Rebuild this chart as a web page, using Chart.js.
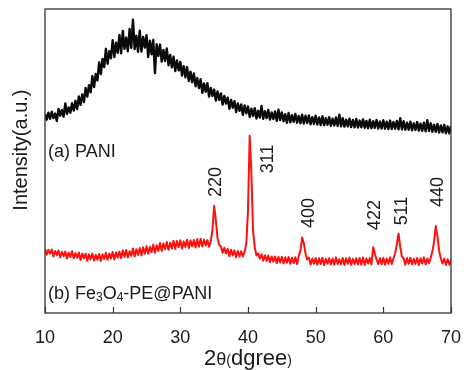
<!DOCTYPE html>
<html>
<head>
<meta charset="utf-8">
<script src="https://cdn.jsdelivr.net/npm/chart.js@4.4.1/dist/chart.umd.min.js"></script>
<style>
  html,body{margin:0;padding:0;background:#fff;}
  #wrap{width:467px;height:370px;position:relative;}
</style>
</head>
<body>
<div id="wrap"><canvas id="xrd" width="467" height="370"></canvas></div>
<script>
// 2-theta sampling grid (deg), 0.25 step from 10 to 70
const twoTheta = Array.from({length:241}, (_,i)=>10 + i*0.25);
const xTicks = [10,20,30,40,50,60,70];

// (a) PANI (arb. units)
const pani = [
  65.4,63.6,65.9,63.9, 66.2,64.1,65.6,63.2, 67.1,64.9,66.8,64.6, 68.9,65.5,67.6,65.9,
  69.0,66.6,69.8,67.1, 71.2,68.5,71.9,69.4, 74.0,71.2,74.9,72.6, 77.9,74.3,78.6,76.5,
  82.4,78.6,83.6,80.9, 86.9,82.0,86.1,83.8, 89.7,84.2,88.9,85.6, 91.5,85.4,92.8,86.9,
  90.6,86.1,93.4,87.2, 96.5,86.8,91.2,85.9, 92.9,86.0,90.8,87.3, 91.4,84.2,89.6,85.1,
  89.8,78.9,88.4,84.6, 88.3,82.7,86.5,82.9, 87.0,81.5,84.9,80.8, 84.3,79.6,83.1,79.8,
  82.6,78.1,81.2,77.5, 80.9,76.3,79.4,75.9, 78.8,74.6,77.3,74.0, 76.9,72.4,75.5,72.8,
  75.6,71.2,74.0,71.4, 73.5,69.9,72.9,70.1, 72.2,68.6,71.4,68.9, 70.8,67.2,70.1,67.5,
  69.7,66.1,68.9,66.5, 68.6,65.2,68.3,65.7, 67.9,64.5,67.2,64.8, 67.4,64.0,66.5,64.3,
  68.1,63.9,66.4,64.1, 66.8,63.6,66.0,63.8, 66.3,63.2,66.9,63.5, 66.0,63.1,65.4,62.6,
  65.8,62.7,65.1,62.9, 65.5,62.6,64.8,62.4, 65.2,62.3,64.9,62.5, 65.0,62.1,64.4,62.2,
  64.9,62.0,64.3,61.8, 64.7,61.8,64.1,61.9, 64.4,61.6,63.9,61.7, 64.3,61.5,65.2,61.4,
  64.1,61.3,63.6,61.4, 63.9,61.2,63.5,61.1, 63.8,61.0,63.3,61.1, 63.7,60.9,63.2,60.8,
  63.6,60.8,63.1,60.9, 63.5,60.7,63.0,60.7, 63.4,60.6,62.9,60.5, 63.3,60.5,62.8,60.6,
  63.2,60.4,64.1,60.4, 63.1,60.3,62.6,60.3, 62.9,60.1,62.4,60.2, 62.8,60.0,62.3,59.9,
  62.6,59.8,63.4,59.9, 62.4,59.6,61.9,59.6, 62.2,59.4,61.7,59.4, 61.9,59.1,61.4,59.1,
  61.5
];

// (b) Fe3O4-PE@PANI
const fe3o4 = [
  21.0,19.2,20.8,19.5, 20.9,18.6,20.4,19.0, 20.6,18.3,20.1,18.7, 20.2,17.9,19.9,18.4,
  20.3,18.0,19.7,18.2, 19.9,17.4,19.6,18.0, 19.5,17.2,19.3,17.6, 19.6,17.3,19.1,17.5,
  19.4,17.1,19.3,17.8, 19.8,17.5,19.6,17.9, 20.1,17.6,19.9,18.2, 20.2,18.0,20.6,18.4,
  20.7,18.3,20.3,18.8, 21.2,18.6,21.0,19.1, 21.4,18.9,21.6,19.5, 22.0,19.5,21.8,20.0,
  22.5,19.8,22.3,20.4, 23.0,20.4,22.9,21.0, 23.4,20.8,23.1,21.2, 23.8,21.1,23.7,21.6,
  23.9,21.2,23.5,21.7, 24.1,21.4,23.9,21.9, 24.0,21.5,24.3,21.8, 24.4,21.9,24.1,22.2,
  24.0,21.8,23.5,27.5, 35.3,30.5,24.6,22.4, 21.9,19.8,21.5,19.6, 21.1,18.7,20.8,18.9,
  20.6,18.3,20.4,18.5, 20.3,18.6,20.1,22.8, 33.5,58.3,46.0,27.0, 21.6,18.9,19.6,17.9,
  19.3,17.2,19.0,17.1, 18.9,16.7,18.6,16.9, 18.6,16.4,18.4,16.6, 18.5,16.3,18.3,16.5,
  18.4,16.2,18.2,16.4, 18.3,16.1,18.8,20.5, 24.8,23.0,19.6,17.6, 18.2,16.0,17.9,16.2,
  18.1,15.9,18.0,16.1, 18.2,15.8,17.8,16.2, 18.0,16.0,17.9,15.9, 18.3,16.1,17.7,16.0,
  18.1,15.8,18.0,16.2, 18.2,15.9,17.8,16.1, 18.0,16.0,18.1,15.9, 18.3,15.8,17.9,16.3,
  18.1,16.0,21.6,19.5, 17.6,16.1,18.0,16.0, 18.2,15.9,17.9,16.2, 18.3,16.1,18.0,19.6,
  22.6,26.1,21.8,18.6, 18.0,15.9,18.1,16.2, 18.2,16.0,17.8,16.1, 18.1,15.8,18.0,16.3,
  18.3,16.0,17.9,16.4, 18.2,20.2,23.4,28.6, 25.2,20.4,17.9,16.3, 17.9,15.8,17.7,15.9,
  17.5
];

// reflection labels
const peakLabels = ['220','311','400','422','511','440'];
const peakLabelX = [35.1,42.85,48.8,58.6,62.55,67.95];
const peakLabelY = [43.1,50.7,32.9,32.2,33.6,39.8];

const FONT = 'Arial, "Liberation Sans", sans-serif';

const frame = {
  id:'frame',
  afterDraw(chart){
    const {ctx, chartArea:a, scales:{x, y}} = chart;
    ctx.save();
    // box
    ctx.strokeStyle = '#333';
    ctx.lineWidth = 1.3;
    ctx.strokeRect(a.left, a.top, a.right - a.left, a.bottom - a.top);
    // inward ticks on bottom
    ctx.lineWidth = 1.2;
    xTicks.forEach(t=>{
      const px = Math.round(x.getPixelForValue(t)) + 0.5;
      ctx.beginPath();
      ctx.moveTo(px, a.bottom);
      ctx.lineTo(px, a.bottom - 6);
      ctx.stroke();
    });

    ctx.fillStyle = '#1a1a1a';

    // peak labels, rotated
    ctx.font = '18px ' + FONT;
    ctx.textAlign = 'center';
    ctx.textBaseline = 'middle';
    peakLabels.forEach((lab,i)=>{
      ctx.save();
      ctx.translate(x.getPixelForValue(peakLabelX[i]), y.getPixelForValue(peakLabelY[i]));
      ctx.rotate(-Math.PI/2);
      ctx.fillText(lab, 0, 1);
      ctx.restore();
    });

    // sample labels
    ctx.textAlign = 'left';
    ctx.textBaseline = 'alphabetic';
    ctx.font = '18px ' + FONT;
    ctx.fillText('(a) PANI', a.left + 3, y.getPixelForValue(51.3));
    const parts = [['(b) Fe',18,0],['3',12,2],['O',18,0],['4',12,2],['-PE@PANI',18,0]];
    let cx = a.left + 3;
    const by = y.getPixelForValue(4.6);
    parts.forEach(([s,sz,dy])=>{
      ctx.font = sz + 'px ' + FONT;
      ctx.fillText(s, cx, by + dy);
      cx += ctx.measureText(s).width;
    });

    // x title with small brackets
    const xt = [['2',22,0],['\u03b8',18,0],['(',14,0],['dgree',22,0],[')',14,0]];
    let w = 0;
    xt.forEach(([s,sz])=>{ ctx.font = sz + 'px ' + FONT; w += ctx.measureText(s).width; });
    cx = (a.left + a.right)/2 - w/2;
    xt.forEach(([s,sz,dy])=>{
      ctx.font = sz + 'px ' + FONT;
      ctx.fillText(s, cx, 365 + dy);
      cx += ctx.measureText(s).width;
    });

    // y title
    ctx.save();
    ctx.translate(27, y.getPixelForValue(53.6));
    ctx.rotate(-Math.PI/2);
    ctx.textAlign = 'center';
    ctx.font = '20px ' + FONT;
    ctx.fillText('Intensity(a.u.)', 0, 0);
    ctx.restore();

    ctx.restore();
  }
};

new Chart(document.getElementById('xrd'), {
  type:'line',
  data:{
    datasets:[
      {
        label:'(b) Fe3O4-PE@PANI',
        data: twoTheta.map((t,i)=>({x:t, y:fe3o4[i]})),
        borderColor:'#ff1010',
        borderWidth:2,
        borderJoinStyle:'round',
        pointRadius:0,
        tension:0
      },
      {
        label:'(a) PANI',
        data: twoTheta.map((t,i)=>({x:t, y:pani[i]})),
        borderColor:'#0a0a0a',
        borderWidth:2.4,
        borderJoinStyle:'round',
        pointRadius:0,
        tension:0
      }
    ]
  },
  options:{
    responsive:false,
    animation:false,
    layout:{padding:{left:45, right:11, top:9, bottom:0}},
    scales:{
      x:{
        type:'linear',
        min:10, max:70,
        afterBuildTicks: s=>{ s.ticks = xTicks.map(v=>({value:v})); },
        afterFit: s=>{ s.height = 57; },
        grid:{display:false},
        border:{display:false},
        ticks:{
          color:'#1a1a1a',
          padding:6,
          maxRotation:0,
          font:{family:FONT, size:18}
        }
      },
      y:{
        display:false,
        min:0, max:100
      }
    },
    plugins:{
      legend:{display:false},
      tooltip:{enabled:false}
    }
  },
  plugins:[frame]
});
</script>
</body>
</html>
